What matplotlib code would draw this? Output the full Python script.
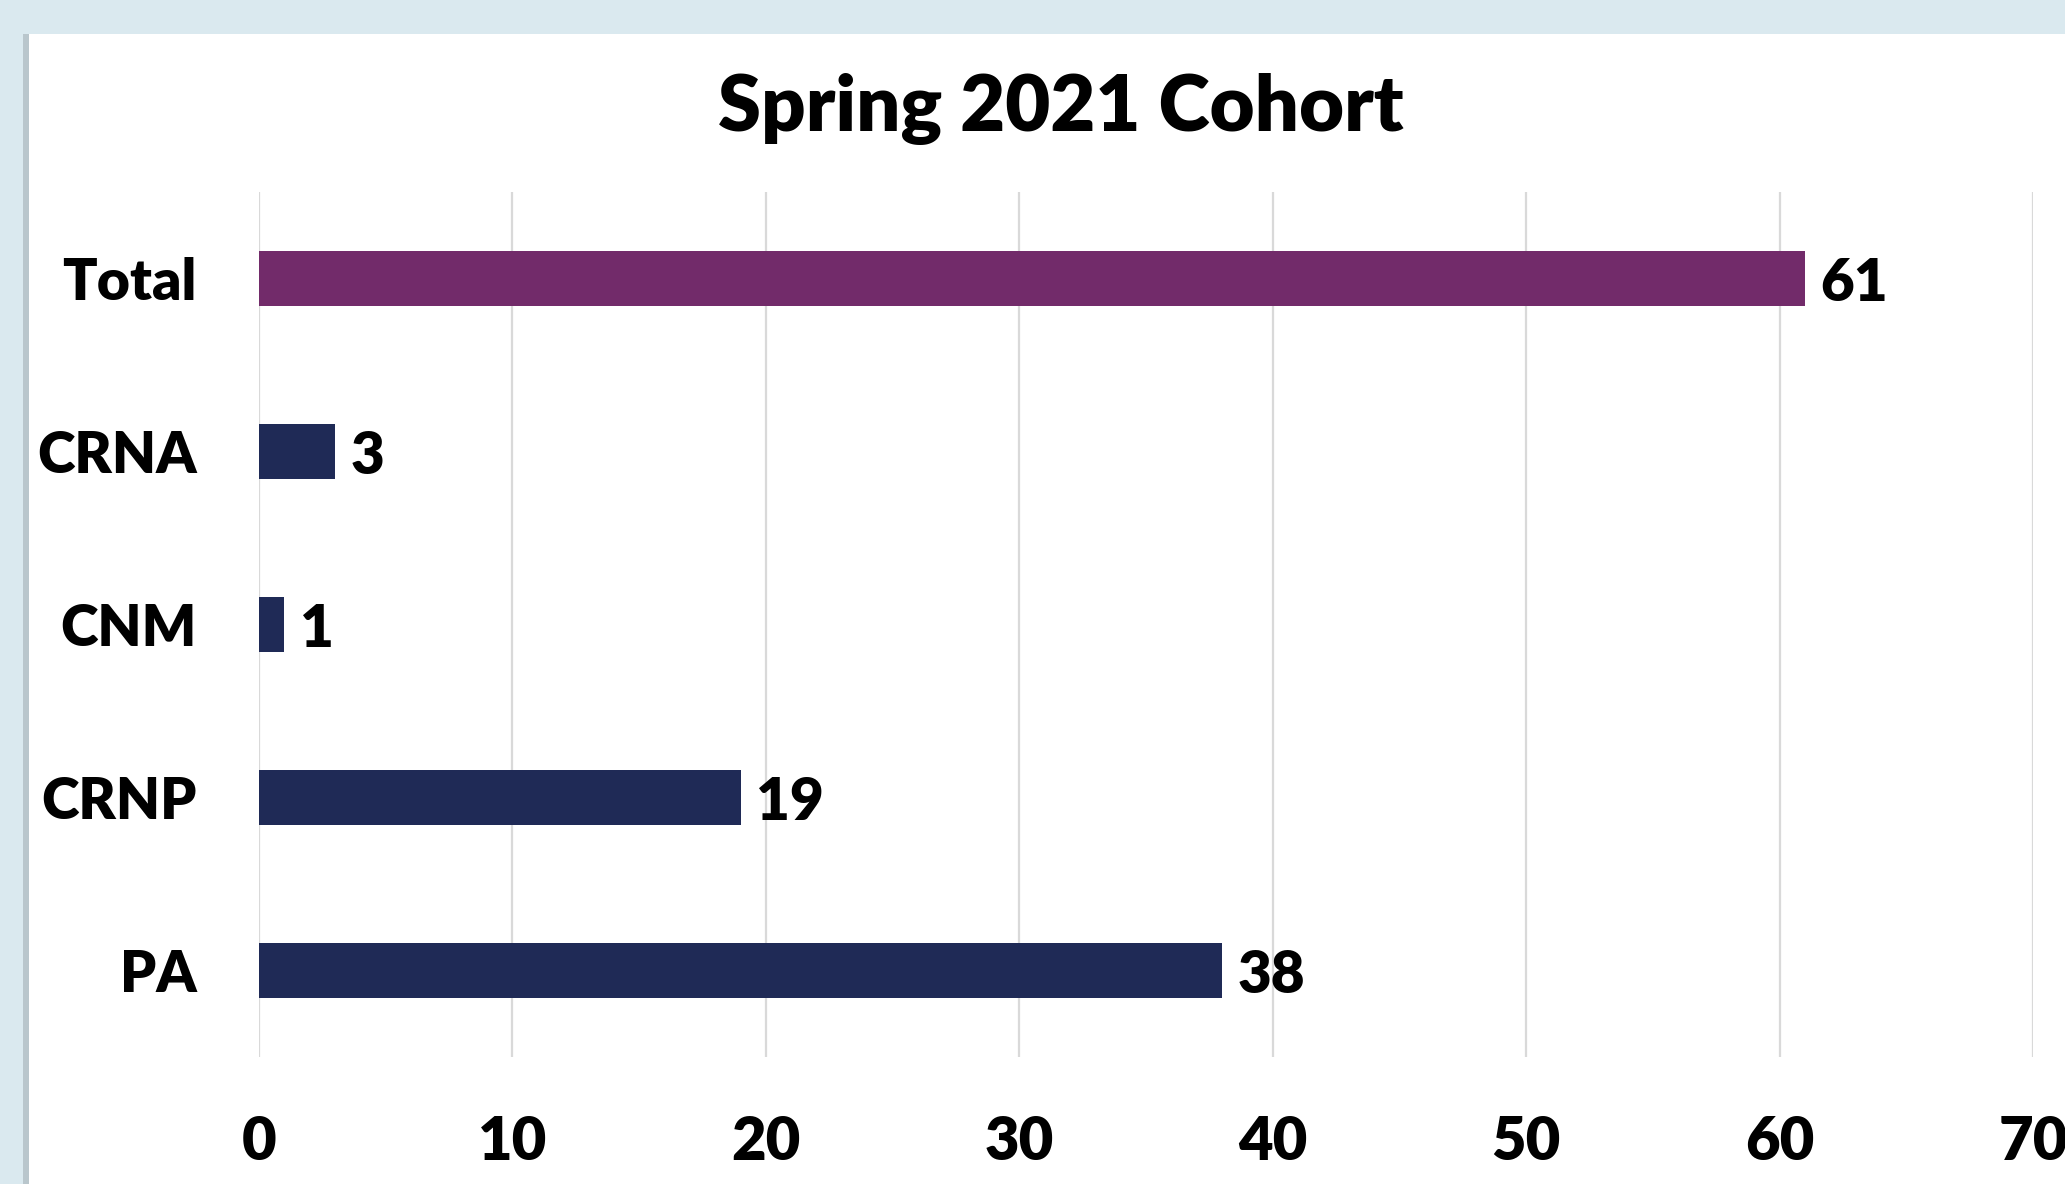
import matplotlib as mpl
mpl.use('Agg')
import matplotlib.pyplot as plt
from matplotlib.patches import Rectangle

categories = ['PA', 'CRNP', 'CNM', 'CRNA', 'Total']
counts = [38, 19, 1, 3, 61]
bar_colors = ['#1F2A56', '#1F2A56', '#1F2A56', '#1F2A56', '#722B6A']
xticks = [0, 10, 20, 30, 40, 50, 60, 70]

plt.rcParams['font.family'] = ['Lato', 'DejaVu Sans']
WEIGHT = 'heavy'

W, H = 2065, 1184
fig = plt.figure(figsize=(W / 100, H / 100), dpi=100, facecolor='#DAE9EF')

# white chart panel with a faint shadow on the left
fig.patches.append(Rectangle((23 / W, 0), 6 / W, 1 - 34 / H, transform=fig.transFigure,
                             facecolor='#B9C6CC', edgecolor='none', zorder=-10))
fig.patches.append(Rectangle((29 / W, 0), 1, 1 - 34 / H, transform=fig.transFigure,
                             facecolor='white', edgecolor='none', zorder=-9))

ax = fig.add_axes([259 / W, 1 - 1057 / H, (2033 - 259) / W, (1057 - 192) / H])
ax.set_facecolor('none')
ax.set_zorder(5)

ypos = range(len(categories))
ax.barh(ypos, counts, height=0.32, color=bar_colors, zorder=3)
for y, v in zip(ypos, counts):
    ax.text(v + 0.6, y - 0.03, str(v), va='center', ha='left', fontsize=42,
            fontweight=WEIGHT, color='black', zorder=4)

ax.set_xlim(0, 70)
ax.set_ylim(-0.5, len(categories) - 0.5)
ax.set_xticks(xticks)
ax.set_yticks(list(ypos))
ax.set_yticklabels(categories, fontweight=WEIGHT)
ax.set_xticklabels([str(t) for t in xticks], fontweight=WEIGHT)
ax.tick_params(axis='x', length=0, pad=42, labelsize=43)
ax.tick_params(axis='y', length=0, pad=45, labelsize=41)
ax.grid(axis='x', color='#D9D9D9', linewidth=1.6, zorder=0)
for s in ax.spines.values():
    s.set_visible(False)

fig.text(1061 / W, 1 - 109 / H, 'Spring 2021 Cohort', ha='center', va='center',
         fontsize=56, fontweight=WEIGHT)

fig.savefig('out.png', dpi=100, facecolor=fig.get_facecolor())
